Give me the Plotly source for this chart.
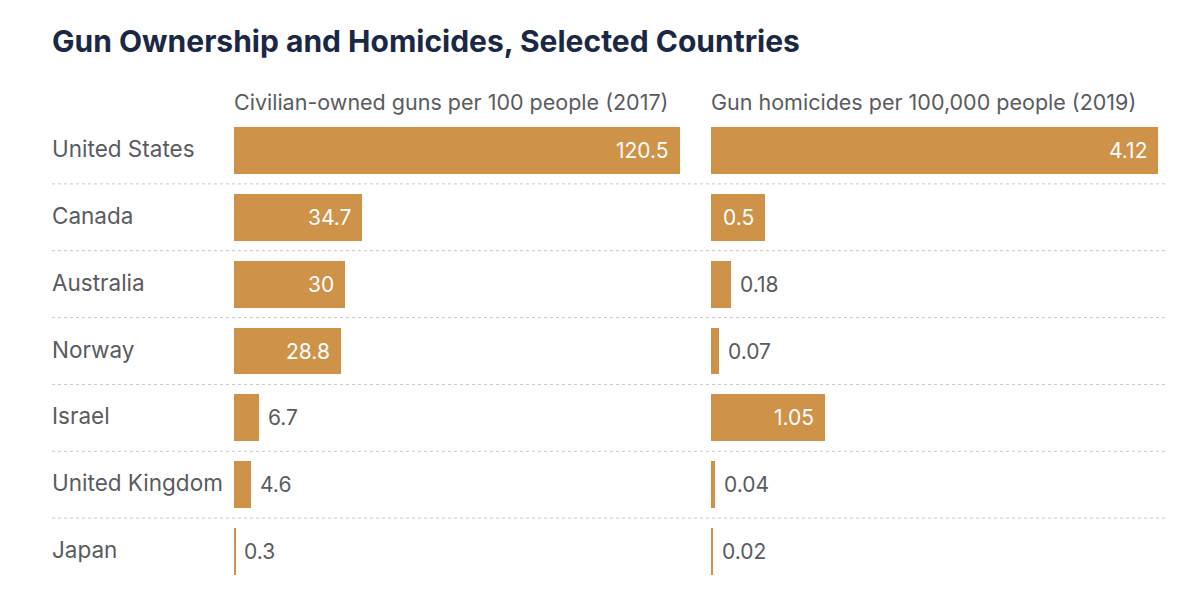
import plotly.graph_objects as go

countries = ["United States", "Canada", "Australia", "Norway", "Israel", "United Kingdom", "Japan"]
guns_per_100 = [120.5, 34.7, 30, 28.8, 6.7, 4.6, 0.3]
homicides_per_100k = [4.12, 0.5, 0.18, 0.07, 1.05, 0.04, 0.02]
guns_labels = ["120.5", "34.7", "30", "28.8", "6.7", "4.6", "0.3"]
hom_labels = ["4.12", "0.5", "0.18", "0.07", "1.05", "0.04", "0.02"]

title = "Gun Ownership and Homicides, Selected Countries"
left_header = "Civilian-owned guns per 100 people (2017)"
right_header = "Gun homicides per 100,000 people (2019)"

W, H = 1200, 602
T, B = 116.5, 16.5
PH = H - T - B
BAR = "#CF9249"
GREY = "#5A5B5E"
NAVY = "#1B2845"
FONT = "Inter, Lato, sans-serif"


def py(ypix):
    return (H - B - ypix) / PH


fig = go.Figure()
fig.add_trace(go.Bar(y=countries, x=guns_per_100, orientation="h", marker_color=BAR,
                     marker_line_width=0, width=0.7, xaxis="x", yaxis="y", hoverinfo="x+y"))
fig.add_trace(go.Bar(y=countries, x=homicides_per_100k, orientation="h", marker_color=BAR,
                     marker_line_width=0, width=0.7, xaxis="x2", yaxis="y", hoverinfo="x+y"))

annotations = []
for vals, labels, xr in [(guns_per_100, guns_labels, "x"), (homicides_per_100k, hom_labels, "x2")]:
    vmax = max(vals)
    for c, v, lab in zip(countries, vals, labels):
        inside = v / vmax > 0.1
        annotations.append(dict(
            x=v, y=c, xref=xr, yref="y", text=lab, showarrow=False,
            xanchor="right" if inside else "left",
            xshift=-9 if inside else 7,
            font=dict(family=FONT, size=21, color="white" if inside else GREY),
        ))

for c in countries:
    annotations.append(dict(x=50 / W, y=c, xref="paper", yref="y", text=c, showarrow=False,
                            xanchor="left", yshift=2,
                            font=dict(family=FONT, size=22.5, color=GREY)))

annotations.append(dict(x=232 / W, y=py(101), xref="paper", yref="paper", text=left_header,
                        showarrow=False, xanchor="left", yanchor="middle",
                        font=dict(family=FONT, size=21.5, color=GREY)))
annotations.append(dict(x=709 / W, y=py(101), xref="paper", yref="paper", text=right_header,
                        showarrow=False, xanchor="left", yanchor="middle",
                        font=dict(family=FONT, size=21.5, color=GREY)))
annotations.append(dict(x=50 / W, y=py(40), xref="paper", yref="paper", text="<b>" + title + "</b>",
                        showarrow=False, xanchor="left", yanchor="middle",
                        font=dict(family=FONT, size=30, color=NAVY)))

shapes = []
for i in range(len(countries) - 1):
    shapes.append(dict(type="line", xref="paper", yref="y", x0=52 / W, x1=1165 / W,
                       y0=i + 0.5, y1=i + 0.5, line=dict(color="#C8C8C8", width=1, dash="dot")))

fig.update_layout(
    width=W, height=H,
    margin=dict(l=0, r=0, t=T, b=B),
    paper_bgcolor="white", plot_bgcolor="white",
    showlegend=False, bargap=0,
    xaxis=dict(domain=[234 / W, 680 / W], range=[0, 120.5], visible=False, fixedrange=True),
    xaxis2=dict(domain=[711 / W, 1158 / W], range=[0, 4.12], visible=False, fixedrange=True),
    yaxis=dict(categoryorder="array", categoryarray=countries, range=[6.5, -0.5],
               visible=False, fixedrange=True),
    annotations=annotations, shapes=shapes,
)

fig.write_html("out.html")
